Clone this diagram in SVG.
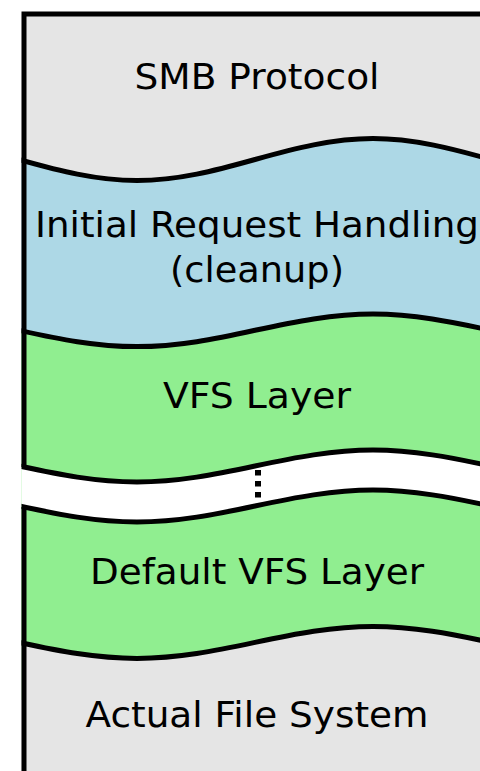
<svg xmlns="http://www.w3.org/2000/svg" width="480" height="771" viewBox="0 0 480 771">
  <style>
    .lbl { font-family: "DejaVu Sans", "Liberation Sans", sans-serif; font-size: 35px; fill: #000; text-anchor: middle; }
    .wave { fill: none; stroke: #000; stroke-width: 5; }
    .gray { fill: #e5e5e5; }
    .blue { fill: #add8e6; }
    .green { fill: #90ee90; }
  </style>
  <defs>
    <clipPath id="inner">
      <rect x="21.5" y="0" width="520" height="800"/>
    </clipPath>
  </defs>
  <rect x="0" y="0" width="480" height="771" fill="#fff"/>
  <g clip-path="url(#inner)">
    <g id="smb-protocol">
      <rect class="gray" x="21.5" y="14" width="520" height="200"/>
      <text class="lbl" x="257" y="89" textLength="245" lengthAdjust="spacingAndGlyphs">SMB Protocol</text>
    </g>
    <g id="initial-request-handling">
      <path class="blue" d="M19,159.5 C58.4,170.5 95.7,180.5 137,180.5 S215.6,170.5 255,159.5 S332.7,138.5 373,138.5 S451.6,148.5 491,159.5 S567.7,180.5 609,180.5 L609,400 L19,400 Z"/>
      <text class="lbl" x="257" y="237" textLength="444" lengthAdjust="spacingAndGlyphs">Initial Request Handling</text>
      <text class="lbl" x="257" y="282" textLength="174" lengthAdjust="spacingAndGlyphs">(cleanup)</text>
    </g>
    <g id="vfs-layer">
      <path class="green" d="M19,330.3 C58.4,338.9 95.7,346.6 137,346.6 S215.6,338.9 255,330.3 S332.7,314 373,314 S451.6,321.7 491,330.3 S567.7,346.6 609,346.6 L609,560 L19,560 Z"/>
      <text class="lbl" x="257" y="408" textLength="188" lengthAdjust="spacingAndGlyphs">VFS Layer</text>
    </g>
    <g id="gap">
      <path fill="#fff" d="M19,466 C58.4,474.4 95.7,482 137,482 S215.6,474.4 255,466 S332.7,450 373,450 S451.6,457.6 491,466 S567.7,482 609,482 L609,600 L19,600 Z"/>
    </g>
    <g id="default-vfs-layer">
      <path class="green" d="M19,506 C58.4,514.4 95.7,522 137,522 S215.6,514.4 255,506 S332.7,490 373,490 S451.6,497.6 491,506 S567.7,522 609,522 L609,700 L19,700 Z"/>
      <text class="lbl" x="257" y="583.5" textLength="334" lengthAdjust="spacingAndGlyphs">Default VFS Layer</text>
    </g>
    <g id="actual-file-system">
      <path class="gray" d="M19,642.4 C58.4,650.8 95.7,658.4 137,658.4 S215.6,650.8 255,642.4 S332.7,626.4 373,626.4 S451.6,634 491,642.4 S567.7,658.4 609,658.4 L609,800 L19,800 Z"/>
      <text class="lbl" x="257" y="726.5" textLength="343" lengthAdjust="spacingAndGlyphs">Actual File System</text>
    </g>
    <g id="connectors">
      <path class="wave" d="M19,159.5 C58.4,170.5 95.7,180.5 137,180.5 S215.6,170.5 255,159.5 S332.7,138.5 373,138.5 S451.6,148.5 491,159.5 S567.7,180.5 609,180.5"/>
      <path class="wave" d="M19,330.3 C58.4,338.9 95.7,346.6 137,346.6 S215.6,338.9 255,330.3 S332.7,314 373,314 S451.6,321.7 491,330.3 S567.7,346.6 609,346.6"/>
      <path class="wave" d="M19,466 C58.4,474.4 95.7,482 137,482 S215.6,474.4 255,466 S332.7,450 373,450 S451.6,457.6 491,466 S567.7,482 609,482"/>
      <path class="wave" d="M19,506 C58.4,514.4 95.7,522 137,522 S215.6,514.4 255,506 S332.7,490 373,490 S451.6,497.6 491,506 S567.7,522 609,522"/>
      <path class="wave" d="M19,642.4 C58.4,650.8 95.7,658.4 137,658.4 S215.6,650.8 255,642.4 S332.7,626.4 373,626.4 S451.6,634 491,642.4 S567.7,658.4 609,658.4"/>
      <line x1="258" y1="470" x2="258" y2="498.5" stroke="#000" stroke-width="6" stroke-dasharray="5.5 5.5"/>
    </g>
  </g>
  <g id="frame" fill="none" stroke="#000" stroke-width="5" stroke-linejoin="miter">
    <path d="M24,467 V14 H520"/>
    <path d="M24,507 V780"/>
  </g>
</svg>
